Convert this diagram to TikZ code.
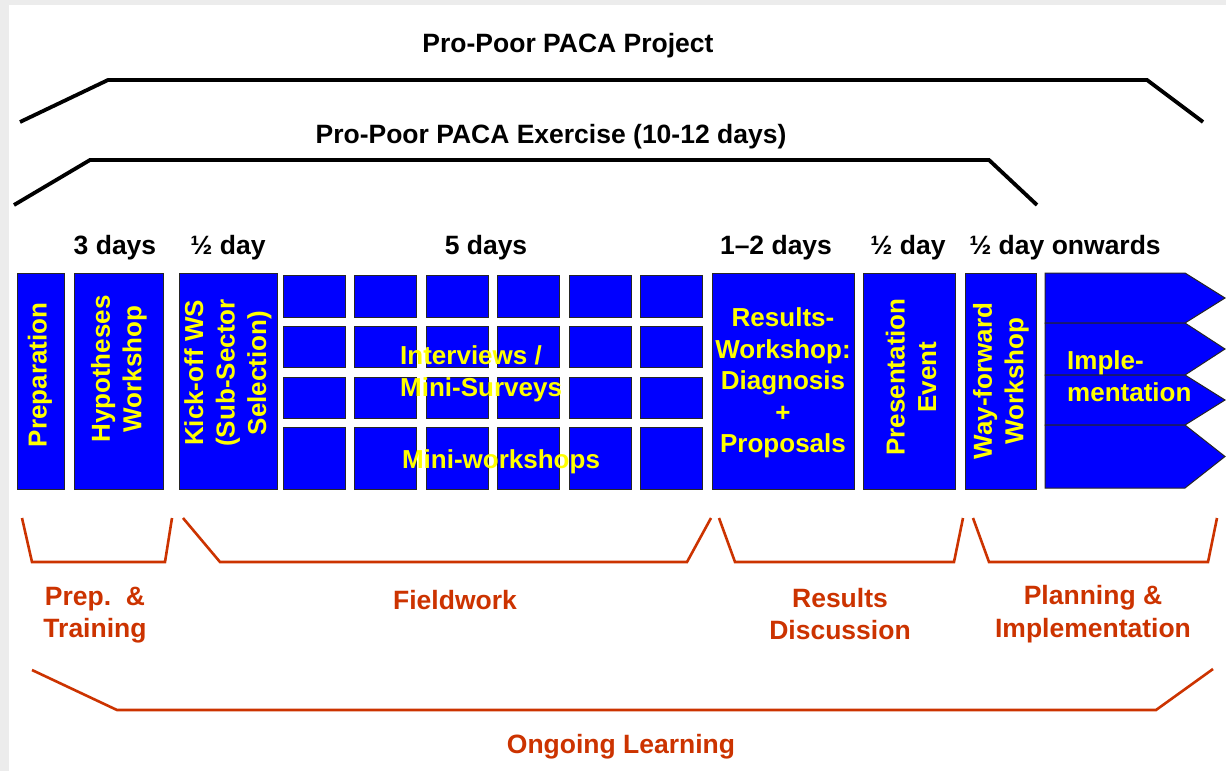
\documentclass[tikz,border=0pt]{standalone}
\usepackage{fontspec}
\setmainfont{Liberation Sans}
\definecolor{pacablue}{RGB}{0,0,255}
\definecolor{pacayellow}{RGB}{255,255,0}
\definecolor{pacaorange}{RGB}{204,51,0}
\definecolor{pacagray}{RGB}{236,236,236}
\begin{document}
\begin{tikzpicture}[x=1pt, y=-1pt,
  brace/.style={line width=3.8pt},
  phase/.style={line width=2.6pt, draw=pacaorange},
  box/.style={fill=pacablue, draw=black!85, line width=1pt},
  head/.style={font=\fontsize{26.5}{30}\selectfont\bfseries, inner sep=0pt},
  inbox/.style={font=\fontsize{26}{31.5}\selectfont\bfseries, text=pacayellow, align=center, inner sep=0pt},
  tag/.style={font=\fontsize{26.5}{32.5}\selectfont\bfseries, text=pacaorange, align=center, inner sep=0pt}]
\useasboundingbox (0,0) rectangle (1226,771);
\fill [pacagray] (0,0) rectangle (1226,771);
\fill [white] (9,5) rectangle (1226,771);

% project and exercise
\node [head] (project) at (568,46) {Pro-Poor PACA Project};
\draw [brace] (20,122)--(108,80)--(1147,80)--(1203,122);
\node [head] (exercise) at (551,137) {Pro-Poor PACA Exercise (10-12 days)};
\draw [brace] (14,205)--(90,160)--(989,160)--(1037,205);

% durations
\node [head] (d3) at (115,248) {3 days};
\node [head] (dhalfa) at (228,248) {½ day};
\node [head] (d5) at (486,248) {5 days};
\node [head] (d12) at (776,248) {1–2 days};
\node [head] (dhalfb) at (908,248) {½ day};
\node [head] (donward) at (1065,248) {½ day onwards};

% boxes
\draw [box] (17,273) rectangle (64,489);
\draw [box] (74,273) rectangle (163,489);
\draw [box] (179,273) rectangle (277,489);
\draw [box] (712,273) rectangle (854,489);
\draw [box] (863,273) rectangle (955,489);
\draw [box] (965,273) rectangle (1036,489);

\foreach \x in {283,354.5,426,497.5,569,640.5}
{
  \foreach \t/\b in {275/317,326/367,377/418,427/489}
    \draw [box] (\x,\t) rectangle (\x+62,\b);
}

\foreach \t/\b in {273/323,323/375,375/425,425/488}
{
  \draw [box, line join=miter] (1045,\t)--(1185,\t)--(1225,{(\t+\b)/2})--(1185,\b)--(1045,\b)--cycle;
}

\node [inbox, rotate=90] (prep) at (40,375) {Preparation};
\node [inbox, rotate=90] (hypo) at (119,369) {Hypotheses\\Workshop};
\node [inbox, rotate=90] (kickoff) at (228,373) {Kick-off WS\\(Sub-Sector\\Selection)};
\node [inbox, align=left, anchor=west] (interviews) at (400,374) {Interviews /\\Mini-Surveys};
\node [inbox] (miniws) at (501,462) {Mini-workshops};
\node [inbox] (results) at (783,383) {Results-\\Workshop:\\Diagnosis\\+\\Proposals};
\node [inbox, rotate=90] (present) at (911,377) {Presentation\\Event};
\node [inbox, rotate=90] (wayfwd) at (1001,381) {Way-forward\\Workshop};
\node [inbox, align=left, anchor=west] (impl) at (1067,376) {Imple-\\mentation};

% phases
\draw [phase] (22,518)--(32,562)--(165,562)--(172,518);
\draw [phase] (183,518)--(220,562)--(687,562)--(711,518);
\draw [phase] (719,518)--(735,562)--(954,562)--(963,518);
\draw [phase] (973,518)--(989,562)--(1208,562)--(1217,518);
\draw [phase] (32,670)--(117,710)--(1156,710)--(1213,669);

\node [tag] (lprep) at (95,615) {Prep.\ \ \&\\Training};
\node [tag] (lfield) at (455,600) {Fieldwork};
\node [tag] (lresults) at (840,614) {Results\\Discussion};
\node [tag] (lplan) at (1093,614) {Planning \&\\Implementation};
\node [tag] (llearn) at (621,747) {Ongoing Learning};
\end{tikzpicture}
\end{document}
